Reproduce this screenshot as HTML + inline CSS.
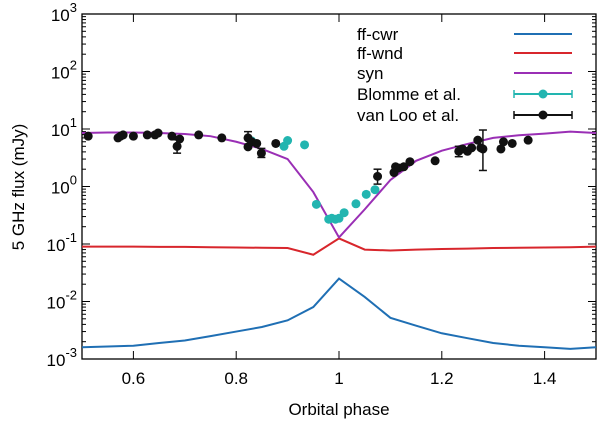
<!DOCTYPE html>
<html><head><meta charset="utf-8"><style>
body{margin:0;background:#fff}
svg{font-family:"Liberation Sans",sans-serif}
</style></head><body>
<svg id="c" width="600" height="422" viewBox="0 0 600 422" xmlns="http://www.w3.org/2000/svg"></svg>
<script>
const phase=[0.5,0.55,0.6,0.65,0.7,0.75,0.8,0.85,0.9,0.95,1.0,1.05,1.1,1.15,1.2,1.25,1.3,1.35,1.4,1.45,1.5];
const synVals=[8.5,8.7,8.7,8.5,8.2,7.5,6,4.5,3,0.8,0.13,0.4,1.3,2.8,4.2,5.5,7,7.8,8.3,9,8.5];
const wndVals=[0.09,0.09,0.09,0.089,0.089,0.088,0.087,0.086,0.085,0.065,0.125,0.08,0.077,0.08,0.082,0.083,0.085,0.086,0.087,0.088,0.09];
const cwrVals=[0.0016,0.00165,0.0017,0.0019,0.0021,0.0025,0.003,0.0036,0.0047,0.008,0.025,0.012,0.0052,0.0038,0.0028,0.0023,0.0019,0.0017,0.0016,0.0015,0.0016];
const blommePhase=[0.83,0.893,0.9,0.933,0.956,0.98,0.986,0.993,1.0,1.01,1.033,1.053,1.07];
const blommeFlux=[6.2,5.0,6.3,5.3,0.49,0.27,0.28,0.27,0.28,0.35,0.5,0.73,0.88];
const vlPhase=[0.512,0.57,0.575,0.58,0.6,0.627,0.642,0.648,0.675,0.685,0.69,0.727,0.772,0.823,0.823,0.83,0.84,0.849,0.877,1.075,1.107,1.11,1.116,1.126,1.138,1.187,1.233,1.24,1.25,1.258,1.27,1.276,1.28,1.315,1.32,1.337,1.368];
const vlFlux=[7.5,7,7.5,7.9,7.5,7.9,7.9,8.5,7.5,5,6.7,7.9,7,7,4.9,6,5.6,3.8,5.6,1.5,1.75,2.2,2.1,2.2,2.7,2.8,4.1,4.5,4.1,4.7,6.4,4.7,4.5,4.5,6,5.6,6.4];
const vlLo=[0,0,0,0,0,0,0,0,0,3.8,0,0,0,5,0,0,0,3.2,0,1.1,0,0,0,0,0,0,3.3,0,0,0,0,0,1.9,0,0,0,0];
const vlHi=[0,0,0,0,0,0,0,0,0,6.5,0,0,0,9,0,0,0,4.6,0,2.0,0,0,0,0,0,0,5,0,0,0,0,0,9.6,0,0,0,0];
const xTicks=[0.6,0.8,1.0,1.2,1.4];
const xTickLabels=["0.6","0.8","1","1.2","1.4"];
const yExps=[-3,-2,-1,0,1,2,3];

const L=82,R=596,T=14,B=359;
const X=v=>L+(v-0.5)/1.0*(R-L);
const Y=v=>B-(Math.log10(v)+3)/6*(B-T);
const svg=document.getElementById('c');
const NS='http://www.w3.org/2000/svg';
function mk(tag,attrs,parent){const e=document.createElementNS(NS,tag);for(const k in attrs)e.setAttribute(k,attrs[k]);(parent||svg).appendChild(e);return e;}

let fr=mk('rect',{x:L,y:T,width:R-L,height:B-T,fill:'none',stroke:'#000','stroke-width':1.3});


xTicks.forEach((t,i)=>{
  const g=mk('g',{});
  
  
  mk('line',{x1:X(t),x2:X(t),y1:B,y2:B-8,stroke:'#000'},g);
  mk('line',{x1:X(t),x2:X(t),y1:T,y2:T+8,stroke:'#000'},g);
  const tx=mk('text',{x:X(t),y:B+25,'font-size':17,'text-anchor':'middle'},g);tx.textContent=xTickLabels[i];
});
yExps.forEach(e=>{
  const g=mk('g',{});
  
  
  const y=Y(Math.pow(10,e));
  mk('line',{x1:L,x2:L+8,y1:y,y2:y,stroke:'#000'},g);
  mk('line',{x1:R,x2:R-8,y1:y,y2:y,stroke:'#000'},g);
  if(e<3)for(let m=2;m<10;m++){const ym=Y(m*Math.pow(10,e));mk('line',{x1:L,x2:L+4,y1:ym,y2:ym,stroke:'#000'},g);mk('line',{x1:R,x2:R-4,y1:ym,y2:ym,stroke:'#000'},g);}
  const tx=mk('text',{x:L-5,y:y+7,'font-size':17,'text-anchor':'end'},g);
  tx.innerHTML='10<tspan dy="-9" font-size="13">'+e+'</tspan>';
});
let xl=mk('text',{x:339,y:415,'font-size':17,'text-anchor':'middle'});xl.textContent='Orbital phase';


let yl=mk('text',{x:0,y:0,'font-size':17,'text-anchor':'middle',transform:'translate(24,187) rotate(-90)'});yl.textContent='5 GHz flux (mJy)';



function line(vals,col,name){
  const p=mk('polyline',{points:phase.map((x,i)=>X(x)+','+Y(vals[i])).join(' '),fill:'none',stroke:col,'stroke-width':2});
  
  
}
line(cwrVals,'#1f6fb4','ff-cwr-line');
line(wndVals,'#d8262c','ff-wnd-line');
line(synVals,'#9a2fb5','syn-line');

blommePhase.forEach((p,i)=>{
  const c=mk('circle',{cx:X(p),cy:Y(blommeFlux[i]),r:4.5,fill:'#22b5b0'});
  
  
});
vlPhase.forEach((p,i)=>{
  const g=mk('g',{});
  
  
  if(vlLo[i]>0){const x=X(p),y1=Y(vlLo[i]),y2=Y(vlHi[i]);
    mk('line',{x1:x,x2:x,y1:y1,y2:y2,stroke:'#111','stroke-width':1.5},g);
    mk('line',{x1:x-4,x2:x+4,y1:y1,y2:y1,stroke:'#111','stroke-width':1.5},g);
    mk('line',{x1:x-4,x2:x+4,y1:y2,y2:y2,stroke:'#111','stroke-width':1.5},g);}
  mk('circle',{cx:X(p),cy:Y(vlFlux[i]),r:4.5,fill:'#111'},g);
});

const legNames=['ff-cwr','ff-wnd','syn','Blomme et al.','van Loo et al.'];
const legCols=['#1f6fb4','#d8262c','#9a2fb5','#22b5b0','#111'];
const legY=[34,53,73,94,115];
legNames.forEach((n,i)=>{
  const g=mk('g',{});
  
  
  const t=mk('text',{x:357,y:legY[i]+6,'font-size':17},g);t.textContent=n;
  mk('line',{x1:514,x2:572,y1:legY[i],y2:legY[i],stroke:legCols[i],'stroke-width':2},g);
  if(i>=3){mk('line',{x1:514,x2:514,y1:legY[i]-4,y2:legY[i]+4,stroke:legCols[i],'stroke-width':1.5},g);
    mk('line',{x1:572,x2:572,y1:legY[i]-4,y2:legY[i]+4,stroke:legCols[i],'stroke-width':1.5},g);
    mk('circle',{cx:543,cy:legY[i],r:4.5,fill:legCols[i]},g);}
});
</script>
</body></html>
